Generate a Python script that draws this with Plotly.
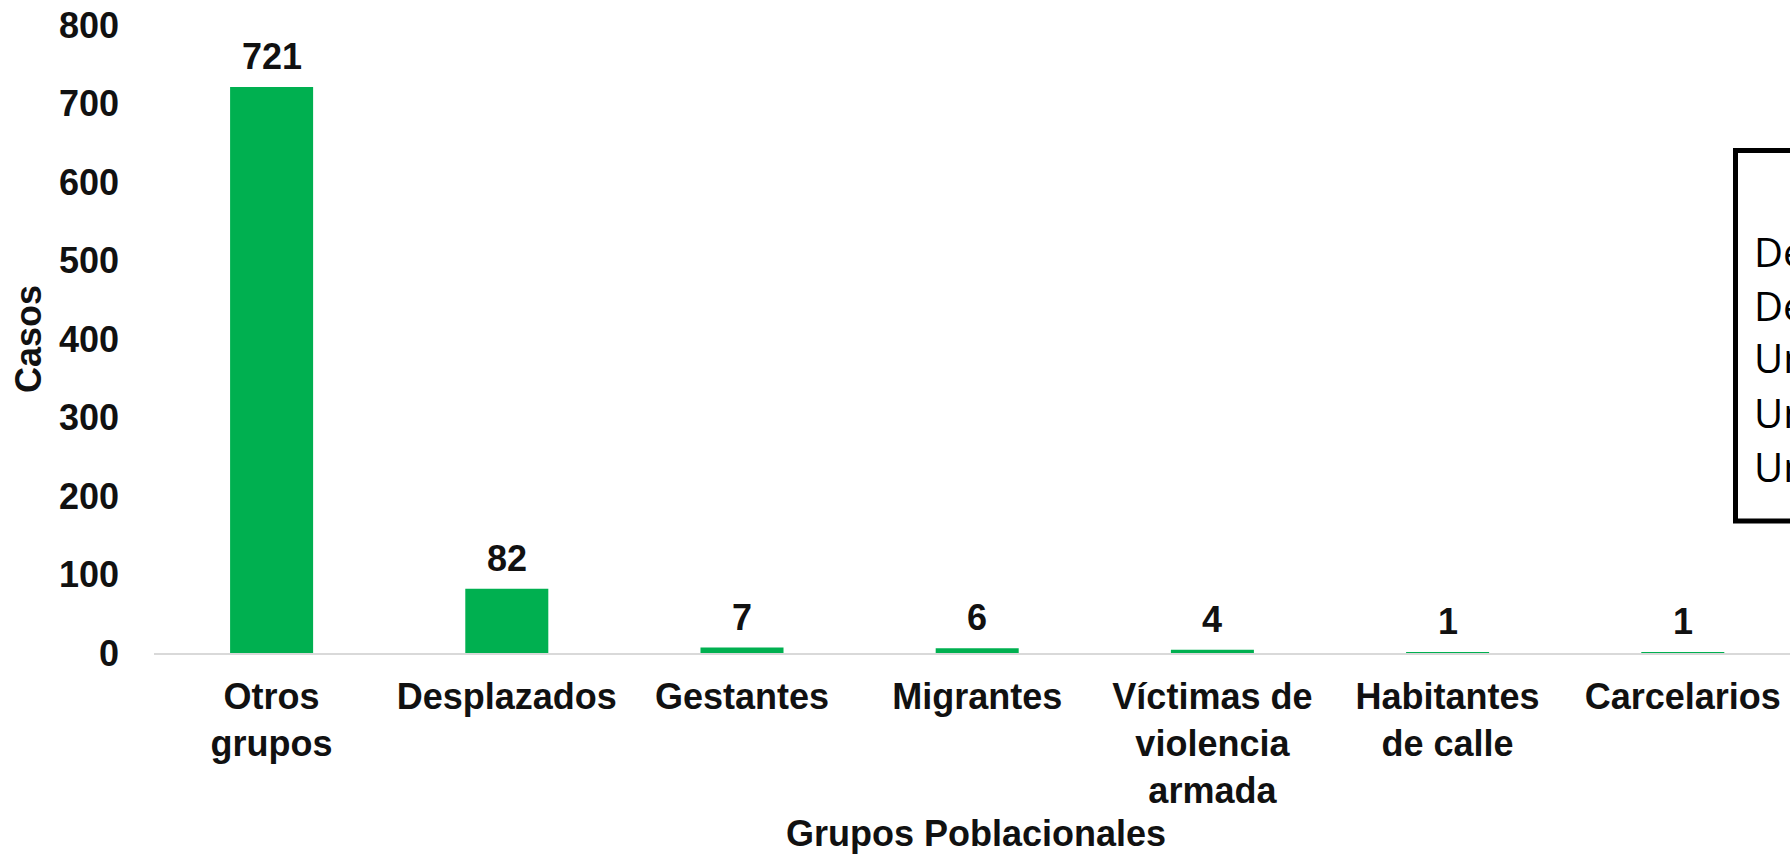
import plotly.graph_objects as go

categories = ["Otros<br>grupos", "Desplazados", "Gestantes", "Migrantes",
              "Víctimas de<br>violencia<br>armada", "Habitantes<br>de calle", "Carcelarios"]
casos = [721, 82, 7, 6, 4, 1, 1]
y_ticks = [0, 100, 200, 300, 400, 500, 600, 700, 800]
box_lines = ["De", "De", "Un", "Un", "Un"]

W, H = 1790, 854
ML, MR, MT, MB = 154, 0, 25, 201
PW, PH = W - ML - MR, H - MT - MB
CAT_W = 235.2

def px2x(px):
    return (px - ML) / PW

def px2y(py):
    return (H - MB - py) / PH

FONT = "Liberation Sans, Arial, sans-serif"
TXT = "#111111"
GREEN = "#00b050"

fig = go.Figure()
fig.add_trace(go.Bar(
    x=categories, y=casos, marker=dict(color=GREEN, line=dict(width=0)),
    width=0.353, hoverinfo="skip", showlegend=False,
))

for c, v in zip(categories, casos):
    fig.add_annotation(x=c, y=v, xref="x", yref="y", text=f"<b>{v}</b>",
                       showarrow=False, yanchor="bottom", yshift=8,
                       font=dict(family=FONT, size=36, color=TXT))

fig.update_layout(
    width=W, height=H,
    margin=dict(l=ML, r=MR, t=MT, b=MB, pad=0),
    paper_bgcolor="white", plot_bgcolor="white",
    font=dict(family=FONT, size=36, color=TXT),
    xaxis=dict(
        type="category", range=[-0.5, -0.5 + PW / CAT_W],
        showline=True, linecolor="#d9d9d9", linewidth=2,
        showgrid=False, zeroline=False, ticks="",
        tickfont=dict(family=FONT, size=36, color=TXT, weight="bold"),
        ticklabelstandoff=11,
    ),
    yaxis=dict(
        range=[0, 800], tickvals=y_ticks, ticktext=[f"<b>{t}</b>" for t in y_ticks],
        showline=False, showgrid=False, zeroline=False, ticks="",
        tickfont=dict(family=FONT, size=36, color=TXT),
        ticklabelstandoff=34,
    ),
)

fig.add_annotation(x=px2x(28), y=0.5, xref="paper", yref="paper",
                   text="<b>Casos</b>", textangle=-90, showarrow=False,
                   xanchor="center", yanchor="middle",
                   font=dict(family=FONT, size=36, color=TXT))
fig.add_annotation(x=px2x(976), y=px2y(833), xref="paper", yref="paper",
                   text="<b>Grupos Poblacionales</b>", showarrow=False,
                   xanchor="center", yanchor="middle",
                   font=dict(family=FONT, size=36, color=TXT))

# partially visible text box on the right edge
fig.add_shape(type="rect", xref="paper", yref="paper",
              x0=px2x(1735.5), x1=px2x(1830), y0=px2y(521), y1=px2y(150.5),
              line=dict(color="black", width=5), fillcolor="rgba(0,0,0,0)")
row_y = [251, 305, 358, 412, 466]
for t, ry in zip(box_lines, row_y):
    fig.add_annotation(x=px2x(1752), y=px2y(ry), xref="paper", yref="paper",
                       text=t, showarrow=False, xanchor="left", yanchor="middle",
                       font=dict(family="Open Sans, sans-serif", size=40, color="black"))

fig.write_html("out.html", config={"displayModeBar": False},
               post_script="document.body.style.margin='0';document.body.style.overflow='hidden';")
